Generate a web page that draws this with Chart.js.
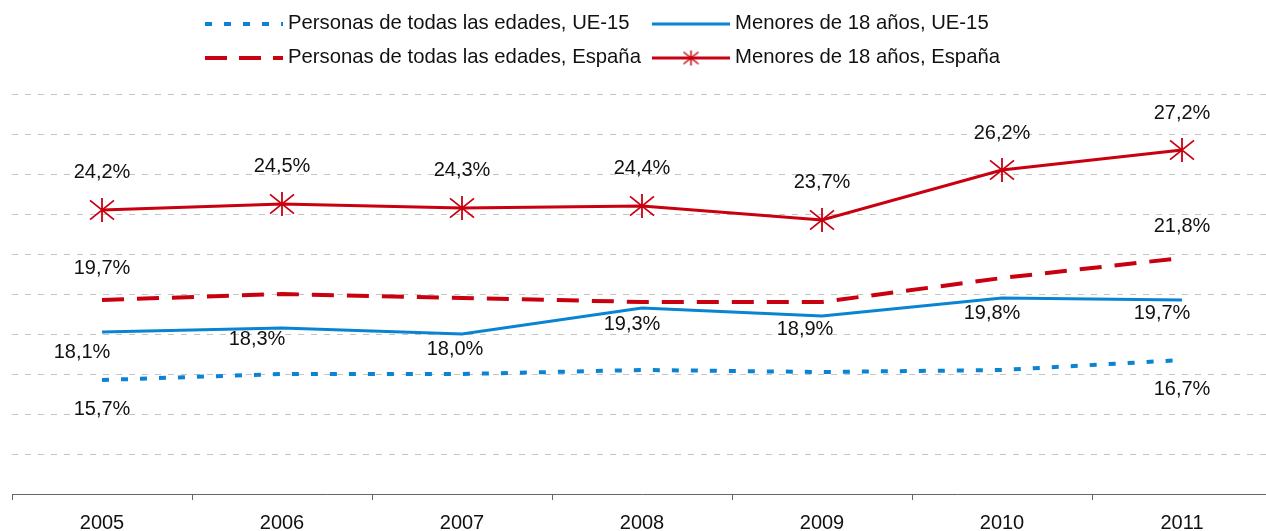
<!DOCTYPE html>
<html>
<head>
<meta charset="utf-8">
<script src="https://cdn.jsdelivr.net/npm/chart.js@4/dist/chart.umd.min.js"></script>
<style>
  html, body { margin: 0; padding: 0; background: #fff; overflow: hidden; }
  #chart { display: block; }
</style>
</head>
<body>
<canvas id="chart" width="1274" height="531"></canvas>
<script>
// Chart data
const years = ['2005', '2006', '2007', '2008', '2009', '2010', '2011'];
const todasUE15 = [15.7, 16.0, 16.0, 16.2, 16.1, 16.2, 16.7];
const menoresUE15 = [18.1, 18.3, 18.0, 19.3, 18.9, 19.8, 19.7];
const todasEspana = [19.7, 20.0, 19.8, 19.6, 19.6, 20.8, 21.8];
const menoresEspana = [24.2, 24.5, 24.3, 24.4, 23.7, 26.2, 27.2];
const yTicks = [10, 12, 14, 16, 18, 20, 22, 24, 26, 28, 30];

const legendNames = [
  'Personas de todas las edades, UE-15',
  'Menores de 18 años, UE-15',
  'Personas de todas las edades, España',
  'Menores de 18 años, España'
];

const BLUE = '#0A84D2';
const RED = '#C8000F';
const FONT = '"Liberation Sans", Arial, sans-serif';

// Asterisk marker (vertical line + X)
function makeStar(size, width) {
  const c = document.createElement('canvas');
  c.width = size;
  c.height = size;
  const ctx = c.getContext('2d');
  ctx.strokeStyle = RED;
  ctx.lineWidth = width;
  const m = size / 2;
  const r = size / 2 - 1;
  ctx.beginPath();
  ctx.moveTo(m, m - r); ctx.lineTo(m, m + r);
  ctx.moveTo(m - r, m - r * 0.8); ctx.lineTo(m + r, m + r * 0.8);
  ctx.moveTo(m - r, m + r * 0.8); ctx.lineTo(m + r, m - r * 0.8);
  ctx.stroke();
  return c;
}
const starBig = makeStar(26, 1.8);
const starSmall = makeStar(17, 1.5);

function fmt(v) {
  return v.toFixed(1).replace('.', ',') + '%';
}

// Value labels: which points get a label and where relative to the point
const labelPlugin = {
  id: 'valueLabels',
  afterDatasetsDraw(chart) {
    const ctx = chart.ctx;
    ctx.save();
    ctx.font = '20px ' + FONT;
    ctx.fillStyle = '#111';
    ctx.textAlign = 'center';
    ctx.textBaseline = 'middle';
    chart.data.datasets.forEach((ds, i) => {
      const cfg = ds.valueLabels;
      if (!cfg) return;
      const meta = chart.getDatasetMeta(i);
      cfg.indices.forEach((idx, k) => {
        const pt = meta.data[idx];
        const dx = cfg.dx[k] || 0;
        const dy = cfg.dy[k] || 0;
        ctx.fillText(fmt(ds.data[idx]), pt.x + dx, pt.y + dy);
      });
    });
    ctx.restore();
  }
};

// Two-row legend drawn above the plot
const legendPlugin = {
  id: 'topLegend',
  afterDraw(chart) {
    const ctx = chart.ctx;
    ctx.save();
    ctx.font = '20.3px ' + FONT;
    ctx.fillStyle = '#111';
    ctx.textBaseline = 'middle';
    const items = [
      { x: 205, y: 23, color: BLUE, width: 4, dash: [7, 12] },
      { x: 652, y: 23, color: BLUE, width: 3, dash: [] },
      { x: 205, y: 57, color: RED, width: 4, dash: [22, 12] },
      { x: 652, y: 57, color: RED, width: 3, dash: [], star: true }
    ];
    items.forEach((it, i) => {
      ctx.save();
      ctx.strokeStyle = it.color;
      ctx.lineWidth = it.width;
      ctx.setLineDash(it.dash);
      ctx.beginPath();
      ctx.moveTo(it.x, it.y + 1);
      ctx.lineTo(it.x + 78, it.y + 1);
      ctx.stroke();
      ctx.restore();
      if (it.star) {
        ctx.drawImage(starSmall, it.x + 39 - 8.5, it.y + 1 - 8.5);
      }
      ctx.fillText(legendNames[i], it.x + 83, it.y);
    });
    ctx.restore();
  }
};

new Chart(document.getElementById('chart'), {
  type: 'line',
  data: {
    labels: years,
    datasets: [
      {
        label: legendNames[0],
        data: todasUE15,
        borderColor: BLUE,
        borderWidth: 4,
        borderDash: [7, 12],
        borderCapStyle: 'butt',
        pointRadius: 0,
        valueLabels: { indices: [0, 6], dx: [0, 0], dy: [29, 29] }
      },
      {
        label: legendNames[1],
        data: menoresUE15,
        borderColor: BLUE,
        borderWidth: 3,
        pointRadius: 0,
        valueLabels: {
          indices: [0, 1, 2, 3, 4, 5, 6],
          dx: [-20, -25, -7, -10, -17, -10, -20],
          dy: [20, 11, 15, 16, 13, 15, 13]
        }
      },
      {
        label: legendNames[2],
        data: todasEspana,
        borderColor: RED,
        borderWidth: 4,
        borderDash: [22, 13],
        borderCapStyle: 'butt',
        pointRadius: 0,
        valueLabels: { indices: [0, 6], dx: [0, 0], dy: [-32, -32] }
      },
      {
        label: legendNames[3],
        data: menoresEspana,
        borderColor: RED,
        borderWidth: 3,
        pointStyle: starBig,
        pointRadius: 13,
        valueLabels: {
          indices: [0, 1, 2, 3, 4, 5, 6],
          dx: [0, 0, 0, 0, 0, 0, 0],
          dy: [-38, -38, -38, -38, -38, -37, -37]
        }
      }
    ]
  },
  options: {
    responsive: false,
    animation: false,
    layout: {
      autoPadding: false,
      padding: { top: 94, left: 12, right: 2, bottom: 0 }
    },
    elements: { line: { tension: 0 } },
    plugins: {
      legend: { display: false },
      tooltip: { enabled: false }
    },
    scales: {
      x: {
        offset: true,
        afterFit(scale) {
          scale.height = 37;
          scale.paddingLeft = 0;
          scale.paddingRight = 0;
        },
        grid: {
          offset: true,
          drawOnChartArea: false,
          drawTicks: true,
          tickLength: 6,
          color: '#666'
        },
        border: { display: true, color: '#666', width: 1 },
        ticks: {
          color: '#111',
          padding: 11,
          font: { family: FONT, size: 20 }
        }
      },
      y: {
        min: yTicks[0],
        max: yTicks[yTicks.length - 1],
        afterFit(scale) {
          scale.width = 0;
          scale.paddingTop = 0;
          scale.paddingBottom = 0;
        },
        afterBuildTicks(scale) {
          scale.ticks = yTicks.map(v => ({ value: v }));
        },
        grid: {
          drawTicks: false,
          color: '#C4C4C4',
          lineWidth: 1
        },
        border: { display: false, dash: [6, 7] },
        ticks: { display: false }
      }
    }
  },
  plugins: [labelPlugin, legendPlugin]
});
</script>
</body>
</html>
